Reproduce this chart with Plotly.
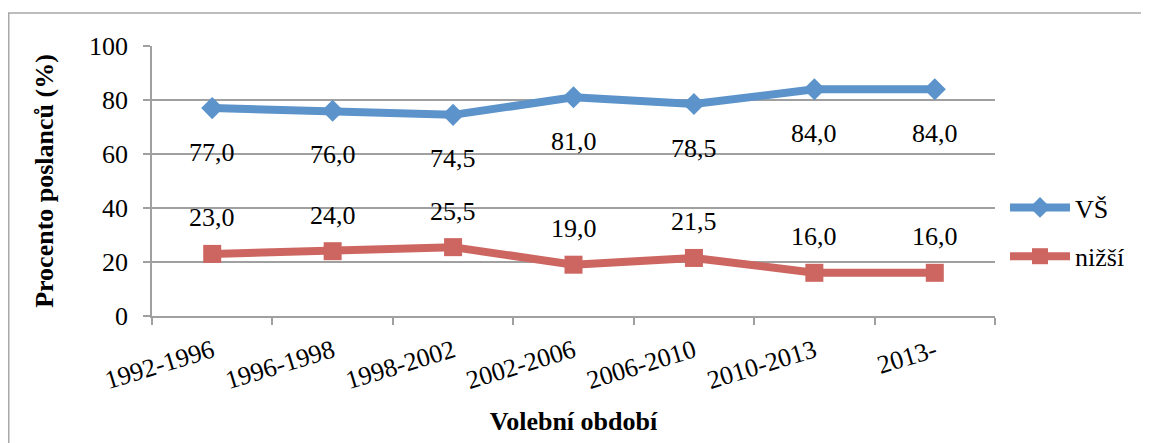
import plotly.graph_objects as go

categories = ["1992-1996", "1996-1998", "1998-2002", "2002-2006", "2006-2010", "2010-2013", "2013-"]
vs_values = [77.0, 76.0, 74.5, 81.0, 78.5, 84.0, 84.0]
nizsi_values = [23.0, 24.0, 25.5, 19.0, 21.5, 16.0, 16.0]
series_names = ["VŠ", "nižší"]
y_ticks = [0, 20, 40, 60, 80, 100]

FONT = "Liberation Serif"
BLUE = "#5B93CA"
RED = "#CD6660"
GRID = "#A0A0A0"

# plot area in figure pixels (page is offset by the 8px body margin)
L, T, W, H = 144, 38, 843, 270

fig = go.Figure()
fig.add_trace(go.Scatter(
    x=categories, y=vs_values, name=series_names[0], mode="lines+markers",
    line=dict(color=BLUE, width=8),
    marker=dict(symbol="diamond", size=17, color=BLUE),
    legendgroup="a",
))
fig.add_trace(go.Scatter(
    x=categories, y=nizsi_values, name=series_names[1], mode="lines+markers",
    line=dict(color=RED, width=8),
    marker=dict(symbol="square", size=18, color=RED),
    legendgroup="b",
))

def fmt(v):
    return f"{v:.1f}".replace(".", ",")

annotations = []
for c, v in zip(categories, vs_values):
    annotations.append(dict(x=c, y=v, text=fmt(v), showarrow=False, yshift=-44,
                            font=dict(family=FONT, size=26, color="black")))
for c, v in zip(categories, nizsi_values):
    annotations.append(dict(x=c, y=v, text=fmt(v), showarrow=False, yshift=36,
                            font=dict(family=FONT, size=26, color="black")))

fig.update_layout(
    width=1149, height=443,
    margin=dict(l=L, r=1149 - L - W, t=T, b=443 - T - H),
    paper_bgcolor="white", plot_bgcolor="white",
    font=dict(family=FONT, size=26, color="black"),
    showlegend=True,
    legend=dict(x=1.0 + 10 / W, xanchor="left", y=(T + H - 224) / H, yanchor="middle",
                font=dict(family=FONT, size=26, color="black"),
                tracegroupgap=12, traceorder="grouped", itemwidth=60,
                bgcolor="rgba(0,0,0,0)"),
    annotations=annotations,
    shapes=[dict(type="rect", xref="paper", yref="paper",
                 x0=(0.75 - L) / W, x1=(1170 - L) / W,
                 y0=(T + H - 460) / H, y1=(T + H - 5) / H,
                 line=dict(color="#A8A8A8", width=1.5), fillcolor="rgba(0,0,0,0)",
                 layer="below")],
)

fig.update_xaxes(
    type="category", range=[-0.5, 6.5],
    showline=True, linecolor=GRID, linewidth=1.5,
    ticks="outside", ticklen=7, tickcolor=GRID, tickwidth=1.5,
    tickson="boundaries", showgrid=False, tickangle=-17,
    ticklabelstandoff=8,
    tickfont=dict(family=FONT, size=26, color="black"),
    title=dict(text="<b>Volební období</b>", font=dict(family=FONT, size=26, color="black"), standoff=18),
)
fig.update_yaxes(
    range=[0, 100], tickvals=y_ticks,
    showline=True, linecolor=GRID, linewidth=1.5,
    ticks="outside", ticklen=7, tickcolor=GRID, tickwidth=1.5,
    showgrid=True, gridcolor=GRID, gridwidth=1.5, zeroline=False,
    ticklabelstandoff=10,
    tickfont=dict(family=FONT, size=26, color="black"),
    title=dict(text="<b>Procento poslanců (%)</b>", font=dict(family=FONT, size=26, color="black"), standoff=28),
)

fig.write_html("out.html")
